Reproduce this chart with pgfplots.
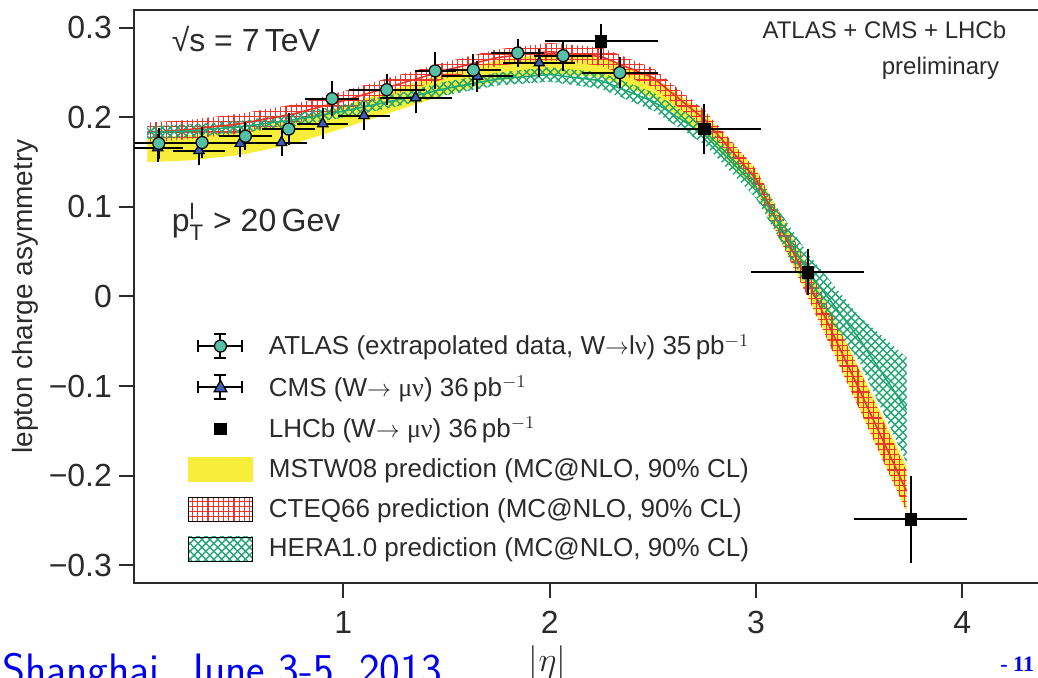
\documentclass[border=0pt]{standalone}
\usepackage{pgfplots}
\pgfplotsset{compat=1.18}
\usepackage{pgfplotstable}
\usepgfplotslibrary{fillbetween}
\usetikzlibrary{patterns,patterns.meta,calc}
\usepackage{fontspec}
\setmainfont{Liberation Sans}
\newfontfamily\serif{Liberation Serif}
\definecolor{txt}{HTML}{2B2B2B}
\definecolor{myel}{HTML}{F6EE3A}
\definecolor{mred}{HTML}{E8352C}
\definecolor{mgreen}{HTML}{1FA774}
\definecolor{atl}{HTML}{56BFA6}
\definecolor{cms}{HTML}{3F5FB5}
\definecolor{slideblue}{HTML}{0000F0}
\tikzset{redgrid/.style={pattern={Hatch[angle=0,distance=2.6pt,line width=0.55pt]}, pattern color=mred},
         greenhatch/.style={pattern={Hatch[angle=45,distance=2.8pt,line width=0.55pt]}, pattern color=mgreen}}

\pgfplotstableread{
x mlo mhi clo chi cmid hlo hhi hmid
0.05 0.150 0.178 0.172 0.194 0.183 0.176 0.190 0.183
0.25 0.152 0.180 0.176 0.197 0.1865 0.178 0.192 0.185
0.50 0.158 0.186 0.182 0.204 0.193 0.183 0.196 0.1895
0.75 0.170 0.197 0.193 0.214 0.2035 0.190 0.204 0.197
1.00 0.188 0.213 0.208 0.229 0.2185 0.200 0.214 0.207
1.25 0.207 0.232 0.226 0.246 0.236 0.212 0.226 0.219
1.50 0.226 0.250 0.244 0.262 0.253 0.225 0.240 0.2325
1.75 0.241 0.264 0.258 0.276 0.267 0.236 0.250 0.243
2.00 0.249 0.272 0.264 0.283 0.2735 0.240 0.256 0.248
2.25 0.245 0.267 0.258 0.278 0.268 0.232 0.250 0.241
2.50 0.222 0.246 0.234 0.255 0.2445 0.208 0.228 0.218
2.75 0.180 0.205 0.188 0.208 0.198 0.170 0.192 0.181
3.00 0.118 0.142 0.120 0.142 0.131 0.110 0.135 0.1225
3.25 0.002 0.034 0.000 0.036 0.018 0.010 0.048 0.029
3.50 -0.125 -0.080 -0.125 -0.082 -0.1035 -0.072 -0.022 -0.047
3.73 -0.240 -0.190 -0.240 -0.195 -0.2175 -0.185 -0.068 -0.1265
}\bands

\pgfplotstableread{
x y ex ey
0.105 0.171 0.105 0.012
0.315 0.172 0.105 0.012
0.525 0.179 0.105 0.010
0.735 0.187 0.105 0.012
0.945 0.221 0.105 0.014
1.21 0.231 0.16 0.012
1.445 0.252 0.075 0.015
1.63 0.253 0.11 0.012
1.845 0.272 0.105 0.010
2.065 0.269 0.115 0.012
2.34 0.250 0.16 0.012
}\atlas

\pgfplotstableread{
x y ex ey
0.10 0.166 0.10 0.010
0.30 0.163 0.10 0.010
0.50 0.171 0.10 0.010
0.70 0.172 0.10 0.010
0.90 0.193 0.10 0.012
1.10 0.202 0.10 0.010
1.35 0.222 0.15 0.012
1.65 0.246 0.15 0.012
1.95 0.261 0.15 0.010
}\cms

\pgfplotstableread{
x y ex ey
2.25 0.285 0.25 0.014
2.75 0.187 0.25 0.022
3.25 0.027 0.25 0.020
3.75 -0.249 0.25 0.043
}\lhcb

\begin{document}
\begin{tikzpicture}
\begin{axis}[
  name=ax, at={(0,0)}, anchor=south west,
  width=465.7pt, height=286.5pt, scale only axis,
  xmin=-0.015, xmax=4.5, ymin=-0.32, ymax=0.32,
  xtick={1,2,3,4}, xticklabels={1,2,3,4},
  ytick={-0.3,-0.2,-0.1,0,0.1,0.2,0.3},
  yticklabels={−0.3,−0.2,−0.1,0,0.1,0.2,0.3},
  xtick pos=left, ytick pos=left,
  tick align=outside, major tick length=7.5pt,
  axis line style={line width=1pt, txt},
  tick style={line width=1pt, txt},
  tick label style={font=\fontsize{16}{18}\selectfont, text=txt},
  xticklabel style={yshift=-3pt},
  ylabel={lepton charge asymmetry},
  ylabel style={at={(axis description cs:-0.117,0.5)}, anchor=center, font=\fontsize{14}{16}\selectfont, text=txt},
  xlabel={$|\eta|$},
  xlabel style={at={(axis description cs:0.444,-0.14)}, anchor=center, font=\fontsize{18}{20}\selectfont, text=txt},
  legend cell align=left,
  legend style={draw=none, fill=none, at={(axis description cs:0.0555,0.445)}, anchor=north west,
    font=\fontsize{13}{15}\selectfont\color{txt}, row sep=5pt, inner sep=1pt},
]
% bands
\addplot[forget plot, draw=none, name path=mlo] table[x=x,y=mlo]{\bands};
\addplot[forget plot, draw=none, name path=mhi] table[x=x,y=mhi]{\bands};
\addplot[forget plot, draw=none, name path=clo] table[x=x,y=clo]{\bands};
\addplot[forget plot, draw=none, name path=chi] table[x=x,y=chi]{\bands};
\addplot[forget plot, draw=none, name path=hlo] table[x=x,y=hlo]{\bands};
\addplot[forget plot, draw=none, name path=hhi] table[x=x,y=hhi]{\bands};
\addplot[forget plot, myel] fill between[of=mlo and mhi];
\addplot[forget plot, redgrid] fill between[of=clo and chi];
\addplot[forget plot, pattern={Hatch[angle=90,distance=2.6pt,line width=0.55pt]}, pattern color=mred] fill between[of=clo and chi];
\addplot[forget plot, greenhatch] fill between[of=hlo and hhi];
\addplot[forget plot, pattern={Hatch[angle=-45,distance=2.8pt,line width=0.55pt]}, pattern color=mgreen] fill between[of=hlo and hhi];
\addplot[forget plot, mred, line width=0.8pt] table[x=x,y=cmid]{\bands};
\addplot[forget plot, mgreen, line width=0.8pt] table[x=x,y=hmid]{\bands};
% data
\addplot[forget plot, only marks, mark=triangle*, mark size=3pt,
  mark options={fill=cms, draw=black, line width=0.6pt},
  error bars/.cd, x dir=both, x explicit, y dir=both, y explicit,
  error bar style={line width=1pt, black}, error mark options={line width=1pt, mark size=2.5pt, black}]
  table[x=x, y=y, x error=ex, y error=ey]{\cms};
\addplot[forget plot, only marks, mark=*, mark size=3pt,
  mark options={fill=atl, draw=black, line width=0.6pt},
  error bars/.cd, x dir=both, x explicit, y dir=both, y explicit,
  error bar style={line width=1pt, black}, error mark options={line width=1pt, mark size=2.5pt, black}]
  table[x=x, y=y, x error=ex, y error=ey]{\atlas};
\addplot[forget plot, only marks, mark=square*, mark size=2.8pt,
  mark options={fill=black, draw=black},
  error bars/.cd, x dir=both, x explicit, y dir=both, y explicit,
  error bar style={line width=1pt, black}, error mark options={line width=1pt, mark size=2.5pt, black}]
  table[x=x, y=y, x error=ex, y error=ey]{\lhcb};
% legend
\addlegendimage{legend image code/.code={
  \draw[line width=1pt,black] (5pt,0pt)--(27pt,0pt);
  \draw[line width=1pt,black] (5pt,-3pt)--(5pt,3pt);
  \draw[line width=1pt,black] (27pt,-3pt)--(27pt,3pt);
  \draw[line width=1pt,black] (16pt,-6pt)--(16pt,6pt);
  \draw[line width=1pt,black] (13pt,-6pt)--(19pt,-6pt);
  \draw[line width=1pt,black] (13pt,6pt)--(19pt,6pt);
  \filldraw[fill=atl, draw=black, line width=0.6pt] (16pt,0pt) circle (3pt);
  \path (0pt,0pt) (38pt,0pt);
}}
\addlegendentry{ATLAS (extrapolated data, W$\rightarrow$l{\serif ν}) 35\,pb$^{-1}$}
\addlegendimage{legend image code/.code={
  \draw[line width=1pt,black] (5pt,0pt)--(27pt,0pt);
  \draw[line width=1pt,black] (5pt,-3pt)--(5pt,3pt);
  \draw[line width=1pt,black] (27pt,-3pt)--(27pt,3pt);
  \draw[line width=1pt,black] (16pt,-6pt)--(16pt,6pt);
  \draw[line width=1pt,black] (13pt,-6pt)--(19pt,-6pt);
  \draw[line width=1pt,black] (13pt,6pt)--(19pt,6pt);
  \filldraw[fill=cms, draw=black, line width=0.6pt] (16pt,3.5pt)--(12.8pt,-2.2pt)--(19.2pt,-2.2pt)--cycle;
  \path (0pt,0pt) (38pt,0pt);
}}
\addlegendentry{CMS (W$\rightarrow$ {\serif μν}) 36\,pb$^{-1}$}
\addlegendimage{legend image code/.code={
  \fill[black] (13.2pt,-2.8pt) rectangle (18.8pt,2.8pt);
  \path (0pt,0pt) (38pt,0pt);
}}
\addlegendentry{LHCb (W$\rightarrow$ {\serif μν}) 36\,pb$^{-1}$}
\addlegendimage{legend image code/.code={
  \fill[myel] (0pt,-6pt) rectangle (32pt,6pt);
  \path (0pt,0pt) (38pt,0pt);
}}
\addlegendentry{MSTW08 prediction (MC@NLO, 90\% CL)}
\addlegendimage{legend image code/.code={
  \fill[redgrid] (0pt,-6pt) rectangle (32pt,6pt);
  \fill[pattern={Hatch[angle=90,distance=2.6pt,line width=0.55pt]}, pattern color=mred] (0pt,-6pt) rectangle (32pt,6pt);
  \path (0pt,0pt) (38pt,0pt);
}}
\addlegendentry{CTEQ66 prediction (MC@NLO, 90\% CL)}
\addlegendimage{legend image code/.code={
  \fill[greenhatch] (0pt,-6pt) rectangle (32pt,6pt);
  \fill[pattern={Hatch[angle=-45,distance=2.8pt,line width=0.55pt]}, pattern color=mgreen] (0pt,-6pt) rectangle (32pt,6pt);
  \path (0pt,0pt) (38pt,0pt);
}}
\addlegendentry{HERA1.0 prediction (MC@NLO, 90\% CL)}
% texts
\node[anchor=base west, font=\fontsize{16}{18}\selectfont, text=txt] at (axis description cs:0.033,0.927) {√s = 7\,TeV};
\node[anchor=base west, font=\fontsize{16}{18}\selectfont, text=txt] at (axis description cs:0.033,0.6126) {$\mathrm{p}_{\mathrm{T}}^{\mathrm{l}}$ > 20\,Gev};
\node[anchor=base east, font=\fontsize{12}{14}\selectfont, text=txt] at (axis description cs:0.944,0.951) {ATLAS + CMS + LHCb};
\node[anchor=base east, font=\fontsize{12}{14}\selectfont, text=txt] at (axis description cs:0.9365,0.887) {preliminary};
\end{axis}
\node[anchor=base west, font=\sffamily\fontsize{22}{26}\selectfont, text=slideblue, inner sep=0pt] at ($(ax.south west)+(-66pt,-51pt)$) {Shanghai, June 3-5, 2013};
\node[anchor=base west, font=\serif\bfseries\fontsize{11}{13}\selectfont, text=slideblue, inner sep=0pt] at ($(ax.south west)+(433pt,-44.5pt)$) {- 11 -};
\pgfresetboundingbox
\useasboundingbox ($(ax.south west)+(-67pt,-47.5pt)$) rectangle ($(ax.south west)+(452pt,291.5pt)$);
\end{tikzpicture}
\end{document}
